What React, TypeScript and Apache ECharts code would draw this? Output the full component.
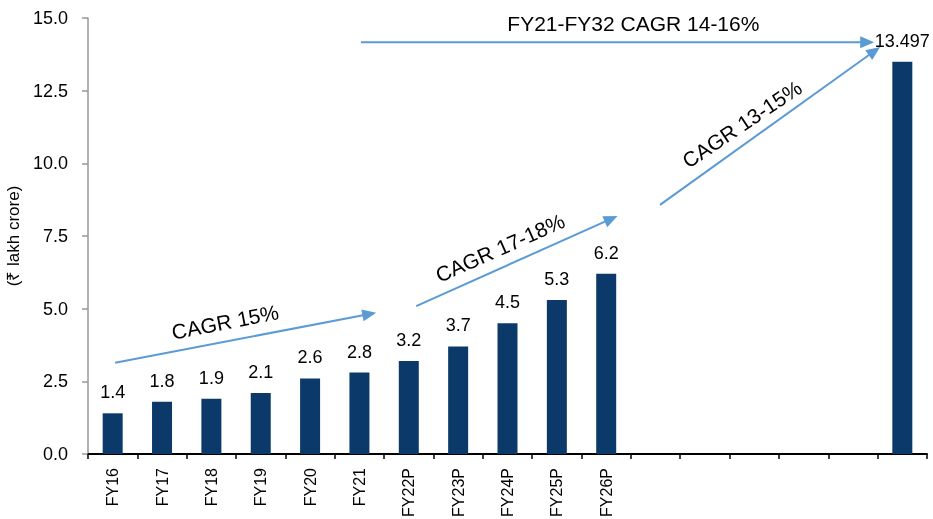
import React, { useEffect, useRef } from "react";
import * as echarts from "echarts";

// ---- data ----
const categories = [
  "FY16", "FY17", "FY18", "FY19", "FY20", "FY21", "FY22P", "FY23P", "FY24P", "FY25P", "FY26P",
  "FY27P", "FY28P", "FY29P", "FY30P", "FY31P", "FY32P",
];
const tickLabels = [
  "FY16", "FY17", "FY18", "FY19", "FY20", "FY21", "FY22P", "FY23P", "FY24P", "FY25P", "FY26P",
  "", "", "", "", "", "",
];
const values: (number | null)[] = [
  1.4, 1.8, 1.9, 2.1, 2.6, 2.8, 3.2, 3.7, 4.5, 5.3, 6.2,
  null, null, null, null, null, 13.497,
];
const yTicks = [0, 2.5, 5, 7.5, 10, 12.5, 15];
const yAxisName = "(₹ lakh crore)";

// annotation arrows in data space: [categoryPosition, value]
const arrowStarts = [[0.05, 3.14], [6.15, 5.09], [11.09, 8.57], [5.03, 14.17]];
const arrowEnds = [[5.34, 4.86], [10.23, 8.19], [15.55, 14.0], [15.43, 14.17]];
const noteTexts = ["CAGR 15%", "CAGR 17-18%", "CAGR 13-15%", "FY21-FY32 CAGR 14-16%"];
const noteAnchors = [[2.28, 4.54], [7.85, 7.09], [12.75, 11.35], [10.55, 14.8]];
const noteAngles = [11, 24, 34, 0];

const FONT = "'Liberation Sans', Arial, sans-serif";
const ARROW_COLOR = "#5b9bd5";

export default function App() {
  const ref = useRef<HTMLDivElement>(null);
  useEffect(() => {
    if (!ref.current) return;
    const chart = echarts.init(ref.current, null, { renderer: "svg" });
    chart.setOption({
      animation: false,
      grid: { left: 88, right: 6, top: 18, bottom: 65, containLabel: false, outerBoundsMode: "none" },
      xAxis: {
        type: "category",
        data: categories,
        boundaryGap: true,
        axisLine: { show: true, lineStyle: { color: "#000", width: 2 } },
        axisTick: { show: true, alignWithLabel: false, interval: 0, length: 5, lineStyle: { color: "#000", width: 1.5 } },
        axisLabel: {
          interval: 0,
          rotate: 90,
          margin: 14,
          color: "#000",
          fontSize: 16,
          fontFamily: FONT,
          formatter: (_v: string, i: number) => tickLabels[i],
        },
        splitLine: { show: false },
      },
      yAxis: {
        type: "value",
        min: yTicks[0],
        max: yTicks[yTicks.length - 1],
        interval: 2.5,
        name: yAxisName,
        nameLocation: "middle",
        nameRotate: 90,
        nameGap: 52,
        nameTextStyle: { color: "#000", fontSize: 17, fontFamily: FONT },
        axisLine: { show: true, lineStyle: { color: "#999", width: 1.5 } },
        axisTick: { show: true, length: 6, lineStyle: { color: "#999", width: 1.5 } },
        axisLabel: {
          margin: 20,
          color: "#000",
          fontSize: 18,
          fontFamily: FONT,
          formatter: (v: number) => v.toFixed(1),
        },
        splitLine: { show: false },
      },
      series: [
        {
          type: "bar",
          data: values,
          barWidth: 20,
          itemStyle: { color: "#0b3a6a" },
          label: {
            show: true,
            position: "top",
            distance: 12,
            color: "#000",
            fontSize: 18,
            fontFamily: FONT,
            formatter: (p: any) => String(p.value),
          },
        },
      ],
    });

    const c0 = chart.convertToPixel({ xAxisIndex: 0 }, categories[0]) as number;
    const c1 = chart.convertToPixel({ xAxisIndex: 0 }, categories[1]) as number;
    const toPx = (p: number[]) => [
      c0 + (c1 - c0) * p[0],
      chart.convertToPixel({ yAxisIndex: 0 }, p[1]) as number,
    ];

    const elements: any[] = [];
    arrowStarts.forEach((s, i) => {
      const a = toPx(s);
      const b = toPx(arrowEnds[i]);
      const dx = b[0] - a[0];
      const dy = b[1] - a[1];
      const len = Math.hypot(dx, dy);
      const ux = dx / len;
      const uy = dy / len;
      const headLen = 14;
      const headHalf = 6;
      const base = [b[0] - ux * headLen, b[1] - uy * headLen];
      elements.push({
        type: "line",
        shape: { x1: a[0], y1: a[1], x2: base[0] + ux * 2, y2: base[1] + uy * 2 },
        style: { stroke: ARROW_COLOR, lineWidth: 2 },
        silent: true,
      });
      elements.push({
        type: "polygon",
        shape: {
          points: [
            [b[0], b[1]],
            [base[0] - uy * headHalf, base[1] + ux * headHalf],
            [base[0] + uy * headHalf, base[1] - ux * headHalf],
          ],
        },
        style: { fill: ARROW_COLOR },
        silent: true,
      });
    });
    noteTexts.forEach((t, i) => {
      const p = toPx(noteAnchors[i]);
      elements.push({
        type: "text",
        x: p[0],
        y: p[1],
        rotation: (noteAngles[i] * Math.PI) / 180,
        style: {
          text: t,
          fill: "#000",
          fontSize: 21,
          fontFamily: FONT,
          align: "center",
          verticalAlign: "middle",
        },
        silent: true,
      });
    });
    chart.setOption({ graphic: { elements } });

    return () => chart.dispose();
  }, []);
  return (
    <div
      ref={ref}
      style={{ position: "fixed", left: 0, top: 0, width: 933, height: 519 }}
    />
  );
}
